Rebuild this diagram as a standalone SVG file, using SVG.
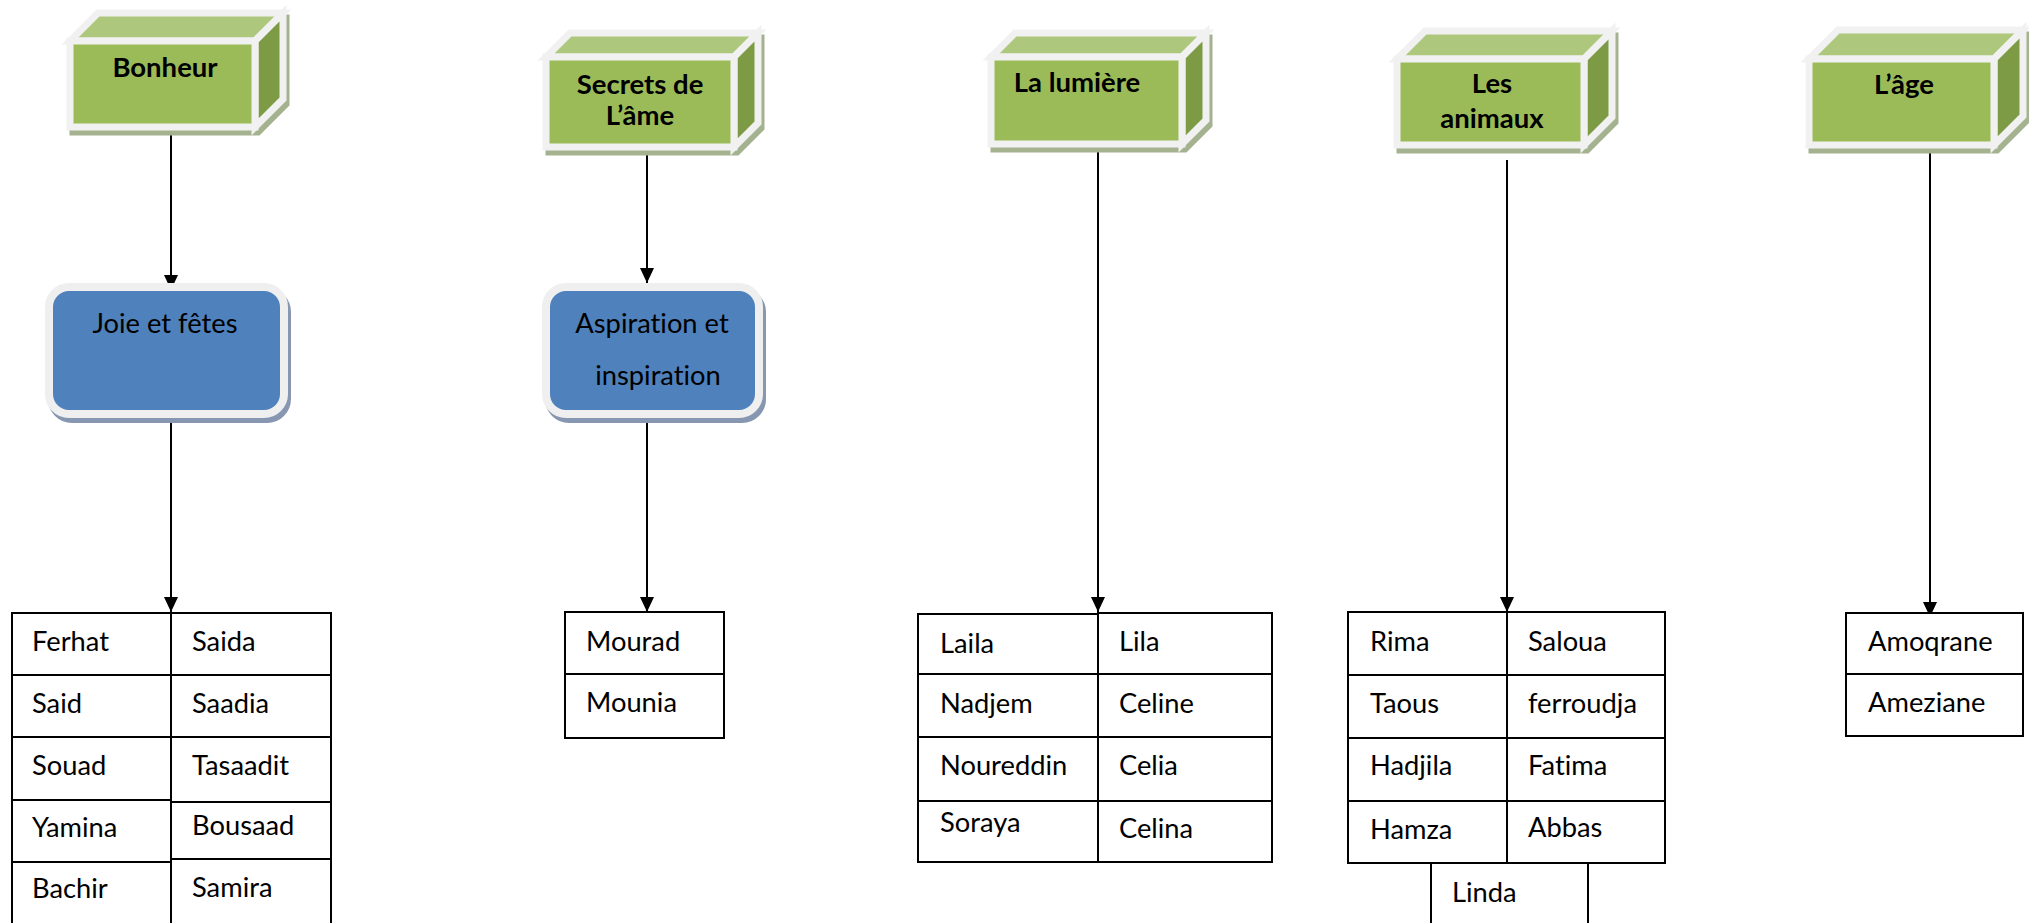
<svg xmlns="http://www.w3.org/2000/svg" width="2029" height="923" viewBox="0 0 2029 923">
<style>
text{font-variant-ligatures:none}
.shadowG{fill:#a4b28f;stroke:#a4b28f;stroke-width:7;stroke-linejoin:miter}
.top{fill:#adc77c;stroke:#f1f1f1;stroke-width:7;stroke-linejoin:miter}
.side{fill:#7d9a45;stroke:#f1f1f1;stroke-width:7;stroke-linejoin:miter}
.front{fill:#9bbb59;stroke:#f1f1f1;stroke-width:7}
.shadowB{fill:#8797b1;stroke:#8797b1;stroke-width:8}
.blue{fill:#4f81bd;stroke:#efefef;stroke-width:8}
.hd{font-family:Lato,"Open Sans",sans-serif;font-weight:bold;font-size:27.5px;fill:#000;text-anchor:middle}
.bt{font-family:Lato,"Open Sans",sans-serif;font-size:27.3px;fill:#000;text-anchor:middle}
.cell{fill:#fff;stroke:#000;stroke-width:2}
.tx{font-family:Lato,"Open Sans",sans-serif;font-size:27.3px;fill:#000}
.conn{stroke:#000;stroke-width:2;fill:none;marker-end:url(#arr)}
</style>
<defs>
<marker id="arr" viewBox="0 0 15 14" refX="15" refY="7" markerWidth="15" markerHeight="14" markerUnits="userSpaceOnUse" orient="auto">
<path d="M0,0 L15,7 L0,14 z" fill="#000"/>
</marker>
</defs>
<rect width="2029" height="923" fill="#fff"/>

<g id="connectors">
<line class="conn" x1="171" y1="131" x2="171" y2="290"/>
<line class="conn" x1="171" y1="419" x2="171" y2="612"/>
<line class="conn" x1="647" y1="151" x2="647" y2="283"/>
<line class="conn" x1="647" y1="419" x2="647" y2="612"/>
<line class="conn" x1="1098" y1="148" x2="1098" y2="612"/>
<line class="conn" x1="1507" y1="160" x2="1507" y2="612"/>
<line class="conn" x1="1930" y1="149" x2="1930" y2="617"/>
</g>

<g id="bonheur">
<polygon class="shadowG" transform="translate(3,5)" points="70,41 98,13 283,13 283,99 255,127 70,127"/>
<polygon class="top" points="70,41 255,41 283,13 98,13"/>
<polygon class="side" points="255,41 283,13 283,99 255,127"/>
<rect class="front" x="70" y="41" width="185" height="86"/>
<text class="hd" x="165" y="77">Bonheur</text>
</g>

<g id="secrets">
<polygon class="shadowG" transform="translate(3,5)" points="546,57 570,33 758,33 758,123 734,147 546,147"/>
<polygon class="top" points="546,57 734,57 758,33 570,33"/>
<polygon class="side" points="734,57 758,33 758,123 734,147"/>
<rect class="front" x="546" y="57" width="188" height="90"/>
<text class="hd" x="640" y="94">Secrets de</text>
<text class="hd" x="640" y="125">L’âme</text>
</g>

<g id="lumiere">
<polygon class="shadowG" transform="translate(3,5)" points="991,57 1015,33 1206,33 1206,120 1182,144 991,144"/>
<polygon class="top" points="991,57 1182,57 1206,33 1015,33"/>
<polygon class="side" points="1182,57 1206,33 1206,120 1182,144"/>
<rect class="front" x="991" y="57" width="191" height="87"/>
<text class="hd" x="1077" y="92">La lumière</text>
</g>

<g id="animaux">
<polygon class="shadowG" transform="translate(3,5)" points="1397,59 1425,31 1612,31 1612,117 1584,145 1397,145"/>
<polygon class="top" points="1397,59 1584,59 1612,31 1425,31"/>
<polygon class="side" points="1584,59 1612,31 1612,117 1584,145"/>
<rect class="front" x="1397" y="59" width="187" height="86"/>
<text class="hd" x="1492" y="93">Les</text>
<text class="hd" x="1492" y="128">animaux</text>
</g>

<g id="age">
<polygon class="shadowG" transform="translate(3,5)" points="1809,59 1838,30 2023,30 2023,116 1994,145 1809,145"/>
<polygon class="top" points="1809,59 1994,59 2023,30 1838,30"/>
<polygon class="side" points="1994,59 2023,30 2023,116 1994,145"/>
<rect class="front" x="1809" y="59" width="185" height="86"/>
<text class="hd" x="1904" y="94">L’âge</text>
</g>

<g id="joie">
<rect class="shadowB" transform="translate(3,5)" x="49" y="287" width="235" height="127" rx="20"/>
<rect class="blue" x="49" y="287" width="235" height="127" rx="20"/>
<text class="bt" x="165" y="333">Joie et fêtes</text>
</g>

<g id="aspiration">
<rect class="shadowB" transform="translate(3,5)" x="546" y="287" width="213" height="127" rx="20"/>
<rect class="blue" x="546" y="287" width="213" height="127" rx="20"/>
<text class="bt" x="652" y="333">Aspiration et</text>
<text class="bt" x="658" y="385">inspiration</text>
</g>

<g id="table-bonheur">
<rect class="cell" x="12" y="613" width="159" height="62"/>
<rect class="cell" x="12" y="675" width="159" height="62"/>
<rect class="cell" x="12" y="737" width="159" height="63"/>
<rect class="cell" x="12" y="800" width="159" height="62"/>
<rect class="cell" x="12" y="862" width="159" height="70"/>
<rect class="cell" x="171" y="613" width="160" height="62"/>
<rect class="cell" x="171" y="675" width="160" height="62"/>
<rect class="cell" x="171" y="737" width="160" height="65"/>
<rect class="cell" x="171" y="802" width="160" height="57"/>
<rect class="cell" x="171" y="859" width="160" height="73"/>
<text class="tx" x="32" y="651">Ferhat</text>
<text class="tx" x="32" y="713">Said</text>
<text class="tx" x="32" y="775">Souad</text>
<text class="tx" x="32" y="837">Yamina</text>
<text class="tx" x="32" y="898">Bachir</text>
<text class="tx" x="192" y="651">Saida</text>
<text class="tx" x="192" y="713">Saadia</text>
<text class="tx" x="192" y="775">Tasaadit</text>
<text class="tx" x="192" y="835">Bousaad</text>
<text class="tx" x="192" y="897">Samira</text>
</g>

<g id="table-secrets">
<rect class="cell" x="565" y="612" width="159" height="62"/>
<rect class="cell" x="565" y="674" width="159" height="64"/>
<text class="tx" x="586" y="651">Mourad</text>
<text class="tx" x="586" y="712">Mounia</text>
</g>

<g id="table-lumiere">
<rect class="cell" x="918" y="614" width="180" height="60"/>
<rect class="cell" x="918" y="674" width="180" height="63"/>
<rect class="cell" x="918" y="737" width="180" height="64"/>
<rect class="cell" x="918" y="801" width="180" height="61"/>
<rect class="cell" x="1098" y="613" width="174" height="61"/>
<rect class="cell" x="1098" y="674" width="174" height="63"/>
<rect class="cell" x="1098" y="737" width="174" height="64"/>
<rect class="cell" x="1098" y="801" width="174" height="61"/>
<text class="tx" x="940" y="653">Laila</text>
<text class="tx" x="940" y="713">Nadjem</text>
<text class="tx" x="940" y="775">Noureddin</text>
<text class="tx" x="940" y="832">Soraya</text>
<text class="tx" x="1119" y="651">Lila</text>
<text class="tx" x="1119" y="713">Celine</text>
<text class="tx" x="1119" y="775">Celia</text>
<text class="tx" x="1119" y="838">Celina</text>
</g>

<g id="table-animaux">
<rect class="cell" x="1348" y="612" width="159" height="63"/>
<rect class="cell" x="1348" y="675" width="159" height="63"/>
<rect class="cell" x="1348" y="738" width="159" height="63"/>
<rect class="cell" x="1348" y="801" width="159" height="62"/>
<rect class="cell" x="1507" y="612" width="158" height="63"/>
<rect class="cell" x="1507" y="675" width="158" height="63"/>
<rect class="cell" x="1507" y="738" width="158" height="63"/>
<rect class="cell" x="1507" y="801" width="158" height="62"/>
<rect class="cell" x="1431" y="863" width="157" height="70"/>
<text class="tx" x="1370" y="651">Rima</text>
<text class="tx" x="1370" y="713">Taous</text>
<text class="tx" x="1370" y="775">Hadjila</text>
<text class="tx" x="1370" y="839">Hamza</text>
<text class="tx" x="1528" y="651">Saloua</text>
<text class="tx" x="1528" y="713">ferroudja</text>
<text class="tx" x="1528" y="775">Fatima</text>
<text class="tx" x="1528" y="837">Abbas</text>
<text class="tx" x="1452" y="902">Linda</text>
</g>

<g id="table-age">
<rect class="cell" x="1846" y="613" width="177" height="61"/>
<rect class="cell" x="1846" y="674" width="177" height="62"/>
<text class="tx" x="1868" y="651">Amoqrane</text>
<text class="tx" x="1868" y="712">Ameziane</text>
</g>
</svg>
